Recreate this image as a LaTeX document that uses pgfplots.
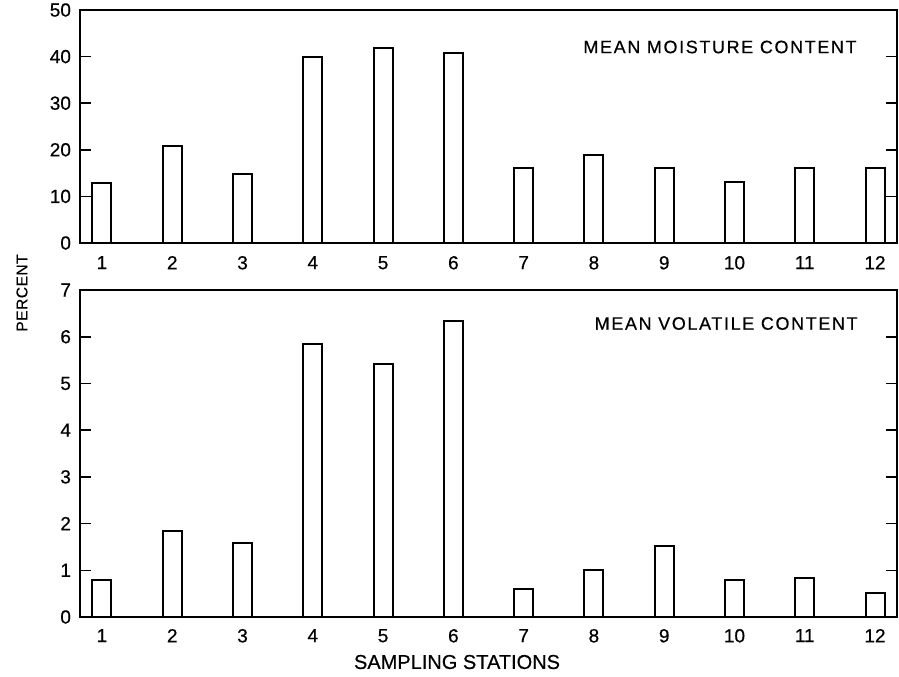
\documentclass[border=0pt]{standalone}
\usepackage{pgfplots}
\pgfplotsset{compat=1.18}
\usepackage{fontspec}
\setmainfont{Liberation Sans}[FakeBold=0.5]
\newfontfamily\plainf[FakeBold=0.5]{Liberation Sans}
\newfontfamily\spaced[LetterSpace=9,FakeBold=0.5]{Liberation Sans}
\newfontfamily\spacedB[LetterSpace=3,FakeBold=0.5]{Liberation Sans}
\begin{document}
\begin{tikzpicture}
\useasboundingbox (0pt,0pt) rectangle (449.5pt,-338pt);
\pgfplotsset{
  panel/.style={
    scale only axis,
    width=408.5pt,
    xmin=0.687, xmax=12.313,
    xtick={1,2,3,4,5,6,7,8,9,10,11,12},
    major x tick style={draw=none},
    ytick pos=both,
    tick align=inside,
    major tick length=5.5pt,
    axis line style={line width=1pt},
    every tick/.style={line width=0.8pt, black},
    ticklabel style={font=\fontsize{9.5}{10}\plainf},
    /pgf/number format/assume math mode=true,
    yticklabel style={xshift=-1pt},
    ybar, bar width=9.5pt,
    clip=false,
  },
  barst/.style={draw=black, fill=white, line width=1pt},
}
% top panel
\begin{axis}[panel,
  at={(40pt,-121.5pt)}, anchor=south west,
  height=116.5pt,
  ymin=0, ymax=50, ytick={0,10,20,30,40,50},
  xticklabel style={yshift=2.5pt},
]
\addplot[barst] coordinates {(1,12.9) (2,20.9) (3,14.9) (4,39.9) (5,41.9) (6,40.7) (7,16.1) (8,18.9) (9,16.0) (10,13.0) (11,16.2) (12,16.1)};
\end{axis}
% bottom panel
\begin{axis}[panel,
  at={(40pt,-308.5pt)}, anchor=south west,
  height=163.5pt,
  ymin=0, ymax=7, ytick={0,1,2,3,4,5,6,7},
  xticklabel style={yshift=3pt},
]
\addplot[barst] coordinates {(1,0.80) (2,1.84) (3,1.59) (4,5.84) (5,5.42) (6,6.34) (7,0.61) (8,1.00) (9,1.52) (10,0.79) (11,0.84) (12,0.51)};
\end{axis}
\node[anchor=east, inner sep=0pt, font=\fontsize{9}{10}\spaced] at (428.5pt,-23.5pt) {MEAN MOISTURE CONTENT};
\node[anchor=east, inner sep=0pt, font=\fontsize{9}{10}\spaced] at (429pt,-161.75pt) {MEAN VOLATILE CONTENT};
\node[inner sep=0pt, font=\fontsize{10}{11}\plainf] at (228.5pt,-331pt) {SAMPLING STATIONS};
\node[rotate=90, inner sep=0pt, font=\fontsize{7.8}{8}\spacedB] at (11pt,-146.5pt) {PERCENT};
\end{tikzpicture}
\end{document}
